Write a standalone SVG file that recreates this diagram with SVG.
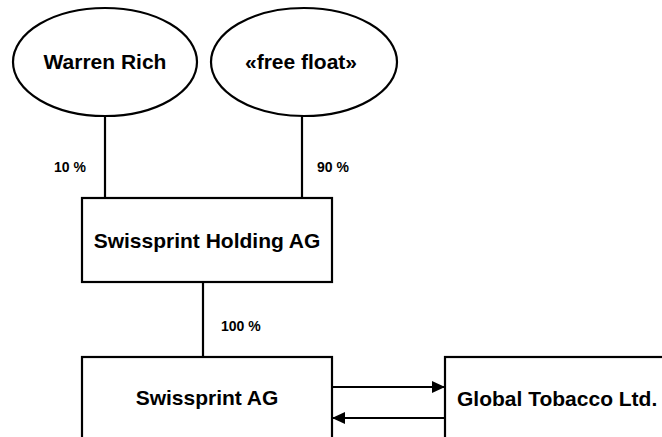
<svg xmlns="http://www.w3.org/2000/svg" width="662" height="437" viewBox="0 0 662 437">
<style>
.shape{fill:#fff;stroke:#000;stroke-width:2.2}
.conn{stroke:#000;stroke-width:2.2;fill:none}
.t{font-family:"Liberation Sans",Arial,sans-serif;font-weight:bold;font-size:21px;fill:#000}
.lbl{font-family:"Liberation Sans",Arial,sans-serif;font-weight:bold;font-size:14px;fill:#000}
</style>
<defs>
<marker id="ah" markerWidth="13" markerHeight="12" refX="13" refY="6" orient="auto" markerUnits="userSpaceOnUse">
<path d="M0,0 L13,6 L0,12 Z" fill="#000"/>
</marker>
</defs>
<rect width="662" height="437" fill="#fff"/>
<g id="connectors">
<line class="conn" x1="105" y1="116" x2="105" y2="198"/>
<line class="conn" x1="302" y1="116" x2="302" y2="198"/>
<line class="conn" x1="203" y1="282" x2="203" y2="357"/>
<line class="conn" x1="332" y1="387" x2="445" y2="387" marker-end="url(#ah)"/>
<line class="conn" x1="445" y1="418" x2="332" y2="418" marker-end="url(#ah)"/>
<text class="lbl" x="54" y="172">10 %</text>
<text class="lbl" x="317" y="172">90 %</text>
<text class="lbl" x="221" y="331">100 %</text>
</g>
<g id="warren">
<ellipse class="shape" cx="105" cy="62" rx="92" ry="54"/>
<text class="t" x="105" y="69" text-anchor="middle">Warren Rich</text>
</g>
<g id="freefloat">
<ellipse class="shape" cx="304" cy="62" rx="93" ry="54"/>
<text class="t" x="301" y="69" text-anchor="middle">«free float»</text>
</g>
<g id="holding">
<rect class="shape" x="82" y="198" width="250" height="84"/>
<text class="t" x="207" y="248" text-anchor="middle">Swissprint Holding AG</text>
</g>
<g id="swissprint">
<rect class="shape" x="82" y="357" width="250" height="100"/>
<text class="t" x="207" y="405" text-anchor="middle">Swissprint AG</text>
</g>
<g id="global">
<rect class="shape" x="445" y="357" width="240" height="100"/>
<text class="t" x="457" y="406">Global Tobacco Ltd.</text>
</g>
</svg>
